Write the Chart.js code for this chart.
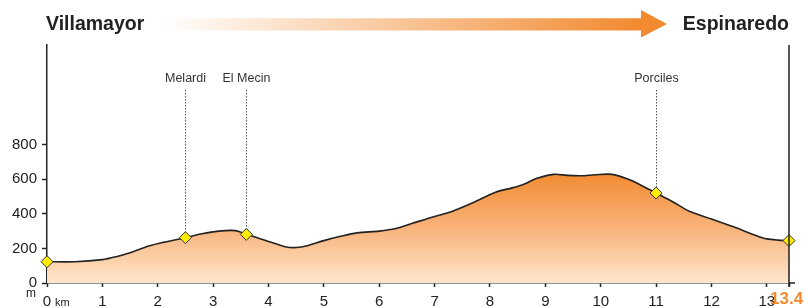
<!DOCTYPE html>
<html>
<head>
<meta charset="utf-8">
<script src="https://cdn.jsdelivr.net/npm/chart.js@4"></script>
<style>
  body { margin: 0; background: #fff; }
  canvas { display: block; }
</style>
</head>
<body>
<canvas id="profile" width="805" height="308"></canvas>
<script>
// elevation profile, km / m
const distKm = [0, 0.5, 1.0, 1.25, 1.5, 1.85, 2.1, 2.5, 2.8, 3.1, 3.4, 3.6, 3.8, 4.05, 4.3, 4.5, 4.7, 5.0, 5.3, 5.6, 6.0, 6.3, 6.6, 7.0, 7.3, 7.7, 8.1, 8.4, 8.6, 8.85, 9.15, 9.4, 9.65, 9.9, 10.2, 10.5, 10.7, 11.0, 11.3, 11.6, 12.0, 12.4, 12.8, 13.0, 13.2, 13.4];
const elevM = [123, 123, 135, 152, 175, 215, 235, 262, 285, 300, 303, 282, 262, 235, 210, 205, 215, 245, 270, 290, 300, 315, 345, 385, 412, 465, 525, 550, 570, 605, 628, 622, 620, 626, 628, 600, 570, 520, 470, 415, 370, 325, 275, 255, 248, 245];

// waypoints
const stopKm = [0, 2.5, 3.6, 11.0, 13.4];
const stopM = [123, 262, 281, 520, 245];
const stopNames = ["", "Melardi", "El Mecin", "Porciles", ""];

const startName = "Villamayor";
const endName = "Espinaredo";

const xTicks = [0, 1, 2, 3, 4, 5, 6, 7, 8, 9, 10, 11, 12, 13, 13.4];
const yTicks = [0, 200, 400, 600, 800];

const ORANGE = "#f28a30";
const INK = "#222";
const FONT = "'Liberation Sans', Arial, sans-serif";

function profileFill(context) {
  const chart = context.chart;
  const area = chart.chartArea;
  if (!area) return ORANGE;
  const y = chart.scales.y;
  let g = chart.ctx.createLinearGradient(0, y.getPixelForValue(640), 0, area.bottom);
  g.addColorStop(0, "#f28a30");
  g.addColorStop(0.5, "#f8b27a");
  g.addColorStop(1, "#fee6cc");
  return g;
}

const decor = {
  id: "decor",
  beforeDraw(chart) {
    const ctx = chart.ctx;
    const area = chart.chartArea;
    ctx.save();
    // header names
    ctx.fillStyle = INK;
    ctx.font = "bold 19.5px " + FONT;
    ctx.textBaseline = "alphabetic";
    ctx.textAlign = "left";
    ctx.fillText(startName, area.left - 1, 30);
    ctx.textAlign = "right";
    ctx.fillText(endName, area.right, 30);

    // arrow
    let g = ctx.createLinearGradient(163, 0, 641, 0);
    g.addColorStop(0, "#ffffff");
    g.addColorStop(1, ORANGE);
    ctx.fillStyle = g;
    ctx.beginPath();
    ctx.moveTo(163, 18.3);
    ctx.lineTo(641, 18.3);
    ctx.lineTo(641, 10);
    ctx.lineTo(667, 24);
    ctx.lineTo(641, 37.5);
    ctx.lineTo(641, 30.5);
    ctx.lineTo(163, 30.5);
    ctx.closePath();
    ctx.fill();
    ctx.restore();
  },
  afterDatasetsDraw(chart) {
    const ctx = chart.ctx;
    const area = chart.chartArea;
    const x = chart.scales.x;
    const y = chart.scales.y;
    ctx.save();

    // right frame line and axis overrun
    ctx.strokeStyle = INK;
    ctx.lineWidth = 1.5;
    ctx.beginPath();
    ctx.moveTo(x.getPixelForValue(13.4), area.top);
    ctx.lineTo(x.getPixelForValue(13.4), area.bottom + 4);
    ctx.moveTo(area.right, area.bottom);
    ctx.lineTo(area.right + 6, area.bottom);
    ctx.stroke();

    // waypoint leaders
    ctx.font = "12.5px " + FONT;
    ctx.textAlign = "center";
    ctx.textBaseline = "middle";
    for (let i = 0; i < stopKm.length; i++) {
      if (!stopNames[i]) continue;
      const px = Math.round(x.getPixelForValue(stopKm[i])) + 0.5;
      const py = y.getPixelForValue(stopM[i]);
      ctx.strokeStyle = "#555";
      ctx.lineWidth = 1;
      ctx.setLineDash([1.5, 1.5]);
      ctx.beginPath();
      ctx.moveTo(px, 90);
      ctx.lineTo(px, py - 5);
      ctx.stroke();
      ctx.setLineDash([]);
      ctx.fillStyle = "#333";
      ctx.fillText(stopNames[i], px, 79);
    }

    // units
    ctx.fillStyle = INK;
    ctx.textBaseline = "alphabetic";
    ctx.textAlign = "left";
    ctx.font = "12px " + FONT;
    ctx.fillText("m", 26, 297);
    ctx.font = "11px " + FONT;
    ctx.fillText("km", 55, 306);
    ctx.restore();
  },
};

new Chart(document.getElementById("profile"), {
  type: "line",
  data: {
    datasets: [
      {
        label: "stops",
        data: stopKm.map((k, i) => ({ x: k, y: stopM[i] })),
        showLine: false,
        pointStyle: "rectRot",
        pointRadius: 6,
        pointBackgroundColor: "#ffee00",
        pointBorderColor: "#333",
        pointBorderWidth: 1,
        clip: false,
        order: 1,
      },
      {
        label: "elevation",
        data: distKm.map((k, i) => ({ x: k, y: elevM[i] })),
        borderColor: INK,
        borderWidth: 1.6,
        backgroundColor: profileFill,
        fill: "origin",
        tension: 0.3,
        pointRadius: 0,
        order: 2,
      },
    ],
  },
  options: {
    responsive: false,
    animation: false,
    layout: {
      padding: { top: 45, right: 16, left: 0, bottom: 0 },
    },
    plugins: {
      legend: { display: false },
      tooltip: { enabled: false },
    },
    scales: {
      x: {
        type: "linear",
        min: 0,
        max: 13.4,
        afterBuildTicks: (scale) => {
          scale.ticks = xTicks.map((v) => ({ value: v }));
        },
        afterFit: (scale) => {
          scale.height = 25;
          scale.paddingLeft = 0;
          scale.paddingRight = 0;
        },
        border: { display: true, color: INK, width: 1.5 },
        grid: {
          display: true,
          drawOnChartArea: false,
          drawTicks: true,
          tickLength: 4,
          color: INK,
          tickWidth: 1.5,
        },
        ticks: {
          padding: 6,
          maxRotation: 0,
          autoSkip: false,
          callback: (v) => (v === 13.4 ? "13.4 " : String(v)),
          color: (c) => (c.tick && c.tick.value === 13.4 ? ORANGE : INK),
          font: (c) =>
            c.tick && c.tick.value === 13.4
              ? { family: FONT, size: 17, weight: "bold", lineHeight: 0.76 }
              : { family: FONT, size: 15 },
        },
      },
      y: {
        min: 0,
        max: 1376,
        afterBuildTicks: (scale) => {
          scale.ticks = yTicks.map((v) => ({ value: v }));
        },
        afterFit: (scale) => {
          scale.width = 47;
          scale.paddingTop = 0;
          scale.paddingBottom = 0;
        },
        border: { display: true, color: INK, width: 1.5 },
        grid: {
          display: true,
          drawOnChartArea: false,
          drawTicks: true,
          tickLength: 5,
          color: INK,
          tickWidth: 1.5,
        },
        ticks: {
          padding: 5,
          color: INK,
          font: { family: FONT, size: 15 },
        },
      },
    },
  },
  plugins: [decor],
});
</script>
</body>
</html>
